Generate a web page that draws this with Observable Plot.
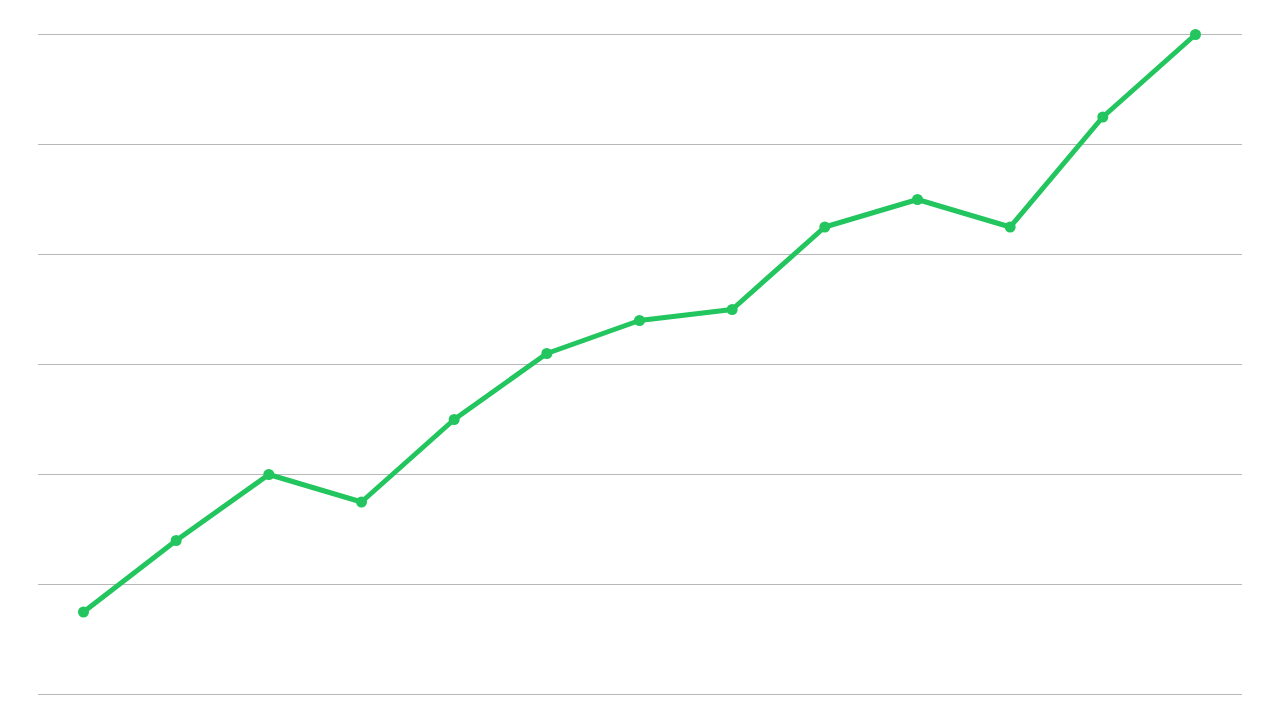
<!DOCTYPE html>
<html>
<head>
<meta charset="utf-8">
<script src="https://cdn.jsdelivr.net/npm/d3@7"></script>
<script src="https://cdn.jsdelivr.net/npm/@observablehq/plot@0.6"></script>
<style>
  html, body { margin: 0; padding: 0; background: #fff; }
  #chart svg { display: block; }
</style>
</head>
<body>
<div id="chart"></div>
<script>
const periods = [0, 1, 2, 3, 4, 5, 6, 7, 8, 9, 10, 11, 12];
const values = [7.5, 14, 20, 17.5, 25, 31, 34, 35, 42.5, 45, 42.5, 52.5, 60];
const gridTicks = [0, 10, 20, 30, 40, 50, 60];

const data = periods.map((p, i) => ({ p, v: values[i] }));

const chart = Plot.plot({
  width: 1280,
  height: 720,
  marginLeft: 38,
  marginRight: 38,
  marginTop: 34,
  marginBottom: 26,
  x: { domain: [0, 12], insetLeft: 45, insetRight: 47, axis: null },
  y: { domain: [0, 60], axis: null },
  style: { background: "#fff" },
  marks: [
    Plot.ruleY(gridTicks, { stroke: "#b8b8b8", strokeWidth: 1 }),
    Plot.line(data, { x: "p", y: "v", stroke: "#22c55e", strokeWidth: 5, strokeLinejoin: "round", strokeLinecap: "round" }),
    Plot.dot(data, { x: "p", y: "v", fill: "#22c55e", r: 5.5 })
  ]
});
document.getElementById("chart").appendChild(chart);
</script>
</body>
</html>
